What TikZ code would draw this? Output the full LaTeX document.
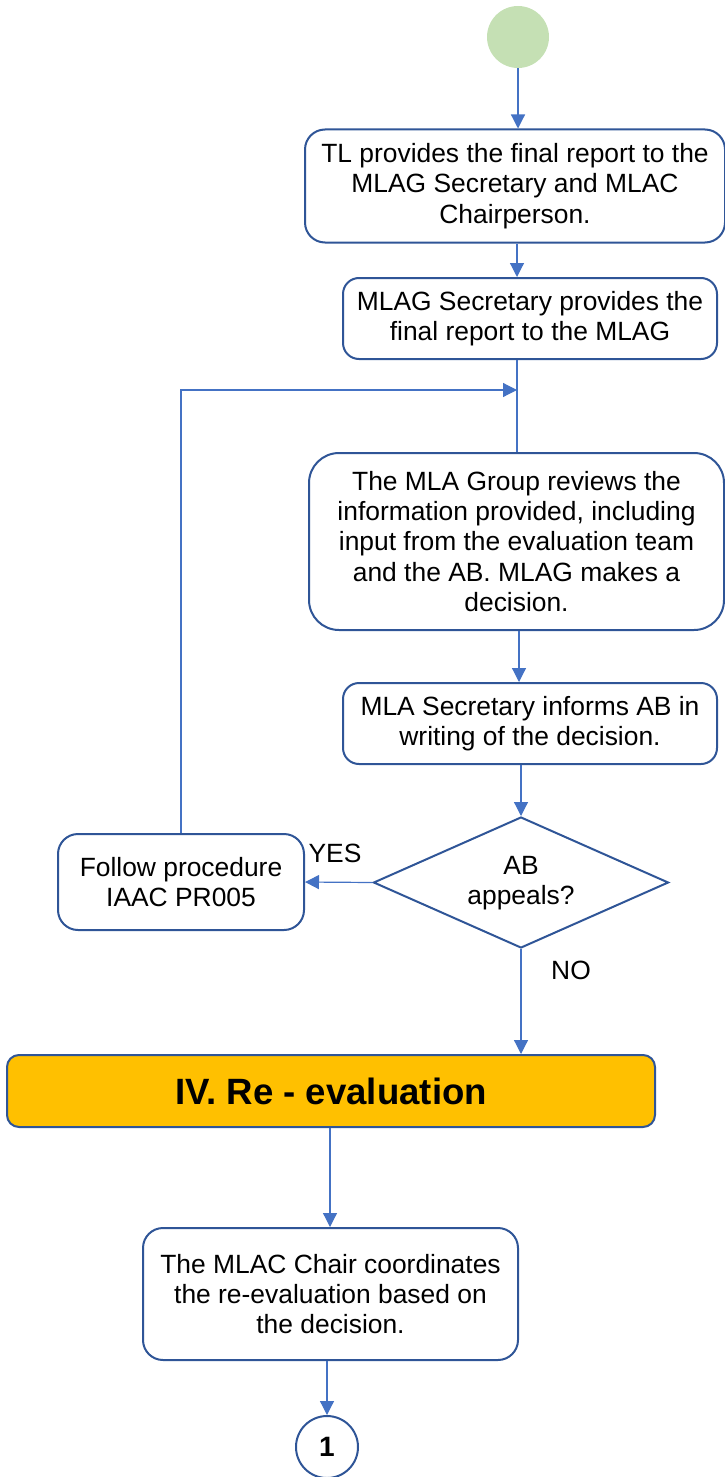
\documentclass[tikz,border=0pt]{standalone}
\usepackage{fontspec}
\setmainfont{Liberation Sans}
\usetikzlibrary{arrows.meta,shapes.geometric}
\definecolor{lineblue}{HTML}{4472C4}
\definecolor{boxblue}{HTML}{2F5597}
\definecolor{startgreen}{HTML}{C5E0B4}
\definecolor{orangefill}{HTML}{FFC000}
\begin{document}
\begin{tikzpicture}[x=0.5pt,y=-0.5pt,
  txt/.style={font=\fontsize{13.2pt}{15.2pt}\selectfont, align=center},
  stepbox/.style={txt, draw=boxblue, line width=1pt, rounded corners=10pt, fill=white, inner sep=0pt},
  conn/.style={draw=lineblue, line width=0.6pt},
  arr/.style={conn, -{Triangle[length=7pt,width=7pt]}},
  lbl/.style={txt, inner sep=0pt}]
\useasboundingbox (0,0) rectangle (724,1477);
\node[circle, fill=startgreen, minimum size=31pt, inner sep=0pt] (start) at (518,37) {};
\node[stepbox, minimum width=210pt, minimum height=56.5pt] (b1) at (515,186)
  {TL provides the final report to the\\MLAG Secretary and MLAC\\Chairperson.};
\node[stepbox, minimum width=187pt, minimum height=40.5pt, rounded corners=8pt] (b2) at (530,318.5)
  {MLAG Secretary provides the\\final report to the MLAG};
\node[stepbox, minimum width=207.5pt, minimum height=88.5pt, rounded corners=15pt] (b3) at (516.5,541.5)
  {The MLA Group reviews the\\information provided, including\\input from the evaluation team\\and the AB. MLAG makes a\\decision.};
\node[stepbox, minimum width=187pt, minimum height=40.5pt, rounded corners=8pt] (b4) at (530,723.5)
  {MLA Secretary informs AB in\\writing of the decision.};
\node[diamond, draw=boxblue, line width=1pt, minimum width=147.5pt, minimum height=65.5pt, inner sep=0pt, fill=white] (d) at (521,882.5) {};
\node[txt, inner sep=0pt] (dt) at (521,883) {AB\\appeals?};
\node[stepbox, minimum width=123pt, minimum height=48pt] (f) at (181,882)
  {Follow procedure\\IAAC PR005};
\node[draw=boxblue, line width=1pt, fill=orangefill, rounded corners=6pt, minimum width=324pt, minimum height=36pt, inner sep=0pt,
  font=\fontsize{18.3pt}{20pt}\selectfont\bfseries] (o) at (331,1091) {IV. Re - evaluation};
\node[stepbox, minimum width=187.5pt, minimum height=66pt] (b5) at (330.5,1294)
  {The MLAC Chair coordinates\\the re-evaluation based on\\the decision.};
\node[circle, draw=boxblue, line width=1pt, minimum size=31pt, inner sep=0pt,
  font=\fontsize{14pt}{15pt}\selectfont\bfseries] (c1) at (327,1447) {1};
\coordinate (j) at (517,390);
\draw[arr] (start.south) -- (start.south |- b1.north);
\draw[arr] (517,0 |- b1.south) -- (517,0 |- b2.north);
\draw[conn] (j |- b2.south) -- (j |- b3.north);
\draw[arr] (f.north) -- (f.north |- j) -- (j);
\draw[arr] (519,0 |- b3.south) -- (519,0 |- b4.north);
\draw[arr] (d.north |- b4.south) -- (d.north);
\draw[arr] (d.west) -- (f.east);
\draw[arr] (d.south) -- (d.south |- o.north);
\draw[arr] (330,0 |- o.south) -- (330,0 |- b5.north);
\draw[arr] (c1.north |- b5.south) -- (c1.north);
\node[lbl] (yes) at (335,853) {YES};
\node[lbl] (no) at (571,970) {NO};
\end{tikzpicture}
\end{document}
